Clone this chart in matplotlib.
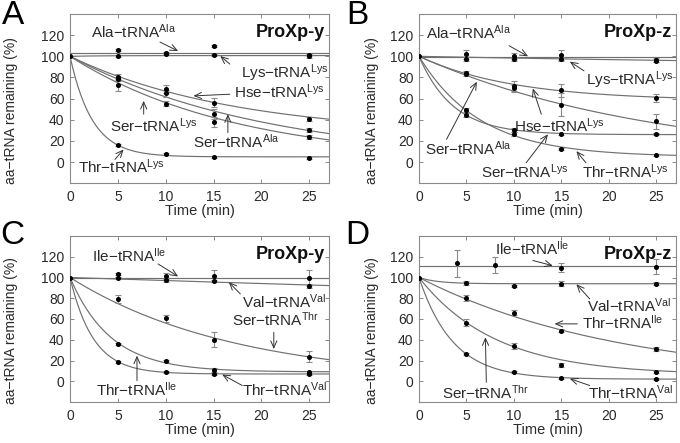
import numpy as np
import matplotlib
matplotlib.use("Agg")
import matplotlib.pyplot as plt

plt.rcParams['font.family'] = ['Liberation Sans', 'DejaVu Sans']
plt.rcParams['mathtext.fontset'] = 'custom'
plt.rcParams['mathtext.rm'] = 'Liberation Sans'
plt.rcParams['mathtext.it'] = 'Liberation Sans:italic'
plt.rcParams['mathtext.bf'] = 'Liberation Sans:bold'

# ---------------- data ----------------
t_pts = [5, 10, 15, 25]
t_pts_D_ile = [4, 8, 15, 25]

# Panel A (ProXp-y)
A_names = ['Ala-tRNA(Ala)', 'Lys-tRNA(Lys)', 'Hse-tRNA(Lys)', 'Ser-tRNA(Ala)', 'Ser-tRNA(Lys)', 'Thr-tRNA(Lys)']
A_vals = [[106, 103, 109.5, 101.5],
          [100.5, 102.5, 101.5, 100],
          [80.7, 69, 56.3, 41.1],
          [78.5, 64.9, 45.3, 30.4],
          [72.8, 55.4, 38, 23.7],
          [15.8, 7.3, 5, 4.1]]
A_err = [[1, 1, 1, 1], [1, 1, 1, 1.5], [3, 4, 4, 2], [2, 3, 4.5, 1.5], [6, 2, 5, 2], [1, 1, 1, 0.8]]
A_plateau = [103.5, 100.7, 25, 0, 0, 5]
A_rate = [None, 0.3, 0.058, 0.0484, 0.0576, 0.43]

# Panel B (ProXp-z)
B_names = ['Ala-tRNA(Ala)', 'Lys-tRNA(Lys)', 'Hse-tRNA(Lys)', 'Ser-tRNA(Ala)', 'Ser-tRNA(Lys)', 'Thr-tRNA(Lys)']
B_vals = [[101.9, 100.6, 101.3, 96.5],
          [97.5, 97.5, 97.5, 95.5],
          [84.5, 72, 68, 60.8],
          [83.2, 69.6, 54.4, 38.6],
          [44.3, 30.5, 26.3, 26.3],
          [49, 26.9, 12, 7]]
B_err = [[4, 3, 5, 2], [2, 2, 2, 1], [1.5, 5, 6, 4], [1.5, 3, 11, 7], [2, 2, 1, 1], [2, 2, 1, 1]]
B_plateau = [99, 88, 58, 0, 26, 5]
B_rate = [None, 0.015, 0.1, 0.04, 0.279, 0.155]

# Panel C (ProXp-y)
C_names = ['Ile-tRNA(Ile)', 'Val-tRNA(Val)', 'Ser-tRNA(Thr)', 'Thr-tRNA(Ile)', 'Thr-tRNA(Val)']
C_vals = [[103.8, 101.8, 101.5, 99.5],
          [99.5, 97.5, 96.4, 91.6],
          [79.4, 60.7, 40.2, 23.8],
          [36.2, 19.2, 10.8, 8.5],
          [18.6, 8.7, 7.4, 7.4]]
C_err = [[1, 3, 6, 8], [1, 2, 1, 2], [3.5, 3.5, 7, 5], [1, 1, 1.5, 1], [1, 1, 1, 1]]
C_plateau = [100, 0, 0, 9, 7]
C_rate = [None, 0.003, 0.058, 0.235, 0.41]

# Panel D (ProXp-z)
D_names = ['Ile-tRNA(Ile)', 'Val-tRNA(Val)', 'Thr-tRNA(Ile)', 'Ser-tRNA(Thr)', 'Thr-tRNA(Val)']
D_vals = [[113.5, 112, 109.5, 110.5],
          [94.8, 92.2, 94.2, 94.2],
          [80.3, 66.1, 48.5, 30.8],
          [56.6, 34, 15.7, 9.3],
          [26.3, 8.6, 3.5, 1.8]]
D_err = [[13, 8, 4.5, 7], [2, 1, 2, 1.5], [3, 2.5, 1.5, 2], [3, 3, 2, 1], [1, 1, 1, 1]]
D_plateau = [111.2, 94, 0, 6, 2]
D_rate = [None, 0.5, 0.047, 0.124, 0.28]

titles = ['ProXp-y', 'ProXp-z', 'ProXp-y', 'ProXp-z']
letters = ['A', 'B', 'C', 'D']
x_ticks = [0, 5, 10, 15, 20, 25]
y_ticks = [0, 20, 40, 60, 80, 100, 120]

# ---------------- layout / style ----------------
def lab(a, b):
    return a + '\u2212tRNA$^{\\mathrm{' + b + '}}$'

annA = [(lab('Ala', 'Ala'), (6.6, 123), (9.4, 113.5), (11.3, 105.0)),
        (lab('Lys', 'Lys'), (22.4, 84.2), (16.7, 92.7), (15.7, 100.3)),
        (lab('Hse', 'Lys'), (21.9, 66.4), (16.7, 64.2), (12.9, 62.6)),
        (lab('Ser', 'Lys'), (8.8, 34.2), (7.7, 45.3), (7.7, 57.9)),
        (lab('Ser', 'Ala'), (17.4, 19), (16.5, 27.9), (16.5, 45.3)),
        (lab('Thr', 'Lys'), (5.4, -4.4), (4.7, 2.6), (5.6, 12))]
annB = [(lab('Ala', 'Ala'), (5.2, 122.7), (9.5, 110), (11.5, 100)),
        (lab('Lys', 'Lys'), (22.2, 77.8), (17.4, 86.3), (15.9, 95)),
        (lab('Hse', 'Lys'), (14.8, 34.2), (12.9, 45.3), (12.0, 69.6)),
        (lab('Ser', 'Ala'), (5.2, 13), (2.9, 21.5), (6.1, 76)),
        (lab('Ser', 'Lys'), (11.1, -9.1), (11.3, -0.6), (13.6, 26.3)),
        (lab('Thr', 'Lys'), (21.8, -9.1), (17.6, -0.6), (16.6, 10.4))]
annC = [(lab('Ile', 'Ile'), (6.2, 121.2), (9.2, 113.1), (11.3, 101)),
        (lab('Val', 'Val'), (22.4, 76.9), (17.8, 84.2), (16.6, 95.5)),
        (lab('Ser', 'Thr'), (21.5, 59.5), (21.3, 47.2), (21.3, 31.1)),
        (lab('Thr', 'Ile'), (7.0, -8), (7.0, 0.6), (7.0, 24.7)),
        (lab('Thr', 'Val'), (22.4, -8), (18.0, -4.1), (15.9, 6.5))]
annD = [(lab('Ile', 'Ile'), (11.9, 127.6), (12.0, 116.4), (14.1, 111.4)),
        (lab('Val', 'Val'), (22.2, 72.3), (18.0, 79.4), (16.6, 93.5)),
        (lab('Thr', 'Ile'), (21.5, 56.2), (16.7, 55.3), (14.3, 55.3)),
        (lab('Ser', 'Thr'), (7.0, -11.3), (7.1, -1), (7.0, 42.4)),
        (lab('Thr', 'Val'), (22.3, -11.3), (18.0, -4.1), (15.9, 2.5))]

W, H = 680, 443
fig = plt.figure(figsize=(W / 100, H / 100), dpi=100)
boxes = [(70, 14, 329.3, 183.3), (419, 14, 676, 183.3),
         (70, 236, 329.3, 402), (419, 236, 676, 402)]
ylab_x = [-0.20, -0.156, -0.20, -0.156]
letter_pos = [(13, 15), (357, 15), (12, 236), (357, 236)]

SPINE = '#8a8a8a'
TXT = '#2a2a2a'
CURVE = '#707070'

panels = [
    (A_vals, A_err, A_plateau, A_rate, annA, [t_pts] * 6),
    (B_vals, B_err, B_plateau, B_rate, annB, [t_pts] * 6),
    (C_vals, C_err, C_plateau, C_rate, annC, [t_pts] * 5),
    (D_vals, D_err, D_plateau, D_rate, annD, [t_pts_D_ile] + [t_pts] * 4),
]

tt = np.linspace(0, 27.1, 400)
for i, (vals, errs, plats, rates, anns, times) in enumerate(panels):
    l, t, r, b = boxes[i]
    ax = fig.add_axes([l / W, 1 - b / H, (r - l) / W, (b - t) / H])
    ax.set_xlim(0, 27.1)
    ax.set_ylim(-20, 140)
    for v, e, p, k, ts in zip(vals, errs, plats, rates, times):
        if k is None:
            yy = np.full_like(tt, p)
        else:
            yy = p + (100 - p) * np.exp(-k * tt)
        ax.plot(tt, yy, color=CURVE, lw=0.85, zorder=2)
        ax.errorbar(ts, v, yerr=e, fmt='o', ms=2.6, mfc='black', mec='black',
                    ecolor='#8a8a8a', elinewidth=0.8, capsize=2.5, capthick=0.8, zorder=3)
    ax.plot([0], [100], 'o', ms=2.6, color='black', zorder=3)
    for text, tc, ts_, tip in anns:
        ax.text(tc[0], tc[1], text, ha='center', va='center', fontsize=11, color=TXT)
        ax.annotate('', xy=tip, xytext=ts_,
                    arrowprops=dict(arrowstyle='->,head_length=0.5,head_width=0.22',
                                    color='#333333', lw=0.7, shrinkA=0, shrinkB=0))
    ax.text(0.985, 0.89, titles[i], transform=ax.transAxes, ha='right', va='center',
            fontsize=13, fontweight='bold', color='#111111')
    ax.set_xticks(x_ticks)
    ax.set_yticks(y_ticks)
    ax.tick_params(direction='in', length=3, width=0.7, color=SPINE, labelsize=10,
                   labelcolor=TXT, top=True, right=True, pad=4)
    ax.tick_params(axis='x', pad=5)
    for s in ax.spines.values():
        s.set_color(SPINE)
        s.set_linewidth(0.8)
    ax.set_xlabel('Time (min)', fontsize=10.5, color=TXT, labelpad=0)
    ax.set_ylabel('aa\u2212tRNA remaining (%)', fontsize=10, color=TXT)
    ax.yaxis.set_label_coords(ylab_x[i], 0.43)
    lx, ly = letter_pos[i]
    fig.text(lx / W, 1 - ly / H, letters[i], fontsize=24, ha='center', va='center', color='black')

fig.savefig('out.png', dpi=100)
